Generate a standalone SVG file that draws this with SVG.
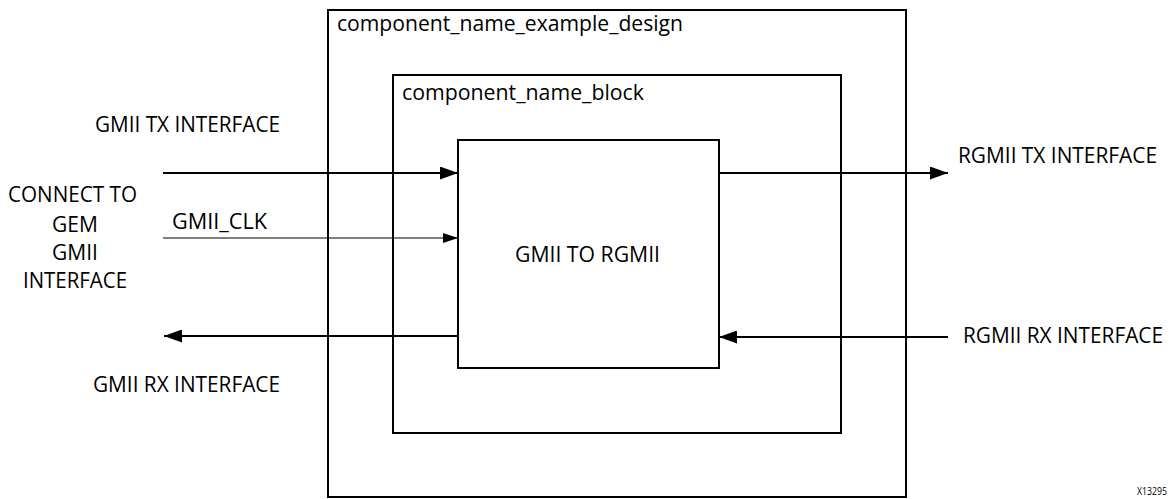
<svg xmlns="http://www.w3.org/2000/svg" width="1173" height="499" viewBox="0 0 1173 499">
  <style>
    .box { fill: #fff; stroke: #000; stroke-width: 2; }
    .lbl { font-family: "Open Sans", "Liberation Sans", sans-serif; font-size: 21px; fill: #000; }
    .bus { stroke: #000; stroke-width: 2; fill: none; marker-end: url(#arrow); }
    .clk { stroke: #000; stroke-width: 1; fill: none; marker-end: url(#arrowThin); }
  </style>
  <defs>
    <!-- filled triangular heads, sized in user units -->
    <marker id="arrow" viewBox="0 0 18 13" refX="18" refY="6.5" markerWidth="18" markerHeight="13" markerUnits="userSpaceOnUse" orient="auto">
      <path d="M0,0 L18,6.5 L0,13 Z" fill="#000"/>
    </marker>
    <marker id="arrowThin" viewBox="0 0 15 10" refX="15" refY="5" markerWidth="15" markerHeight="10" markerUnits="userSpaceOnUse" orient="auto">
      <path d="M0,0 L15,5 L0,10 Z" fill="#000"/>
    </marker>
  </defs>

  <rect width="1173" height="499" fill="#fff"/>

  <g id="example_design">
    <rect class="box" x="328" y="10" width="578" height="487"/>
    <text class="lbl" x="337" y="31" textLength="346" lengthAdjust="spacingAndGlyphs">component_name_example_design</text>
  </g>

  <g id="block">
    <rect class="box" x="393" y="75" width="448" height="358"/>
    <text class="lbl" x="402" y="100" textLength="242" lengthAdjust="spacingAndGlyphs">component_name_block</text>
  </g>

  <g id="gmii_to_rgmii">
    <rect class="box" x="458" y="140" width="261" height="228"/>
    <text class="lbl" x="515" y="262" textLength="145" lengthAdjust="spacingAndGlyphs">GMII TO RGMII</text>
  </g>

  <g id="connectors">
    <line class="bus" x1="163" y1="173" x2="458" y2="173"/>
    <line class="clk" x1="163" y1="238" x2="458" y2="238"/>
    <line class="bus" x1="458" y1="336" x2="164" y2="336"/>
    <line class="bus" x1="719" y1="173" x2="948" y2="173"/>
    <line class="bus" x1="948" y1="337" x2="719" y2="337"/>
  </g>

  <g id="gem_side">
    <text class="lbl" x="95" y="132" textLength="185" lengthAdjust="spacingAndGlyphs">GMII TX INTERFACE</text>
    <text class="lbl" x="8" y="202" textLength="129" lengthAdjust="spacingAndGlyphs">CONNECT TO</text>
    <text class="lbl" x="75" y="232" text-anchor="middle">GEM</text>
    <text class="lbl" x="75" y="260" text-anchor="middle">GMII</text>
    <text class="lbl" x="23" y="288" textLength="104" lengthAdjust="spacingAndGlyphs">INTERFACE</text>
    <text class="lbl" x="172" y="229" textLength="95" lengthAdjust="spacingAndGlyphs">GMII_CLK</text>
    <text class="lbl" x="93" y="392" textLength="187" lengthAdjust="spacingAndGlyphs">GMII RX INTERFACE</text>
  </g>

  <g id="phy_side">
    <text class="lbl" x="958" y="163" textLength="199" lengthAdjust="spacingAndGlyphs">RGMII TX INTERFACE</text>
    <text class="lbl" x="963" y="343" textLength="200" lengthAdjust="spacingAndGlyphs">RGMII RX INTERFACE</text>
  </g>

  <text x="1137" y="495" font-family="Open Sans, Liberation Sans, sans-serif" font-size="10" fill="#000" textLength="30" lengthAdjust="spacingAndGlyphs">X13295</text>
</svg>
